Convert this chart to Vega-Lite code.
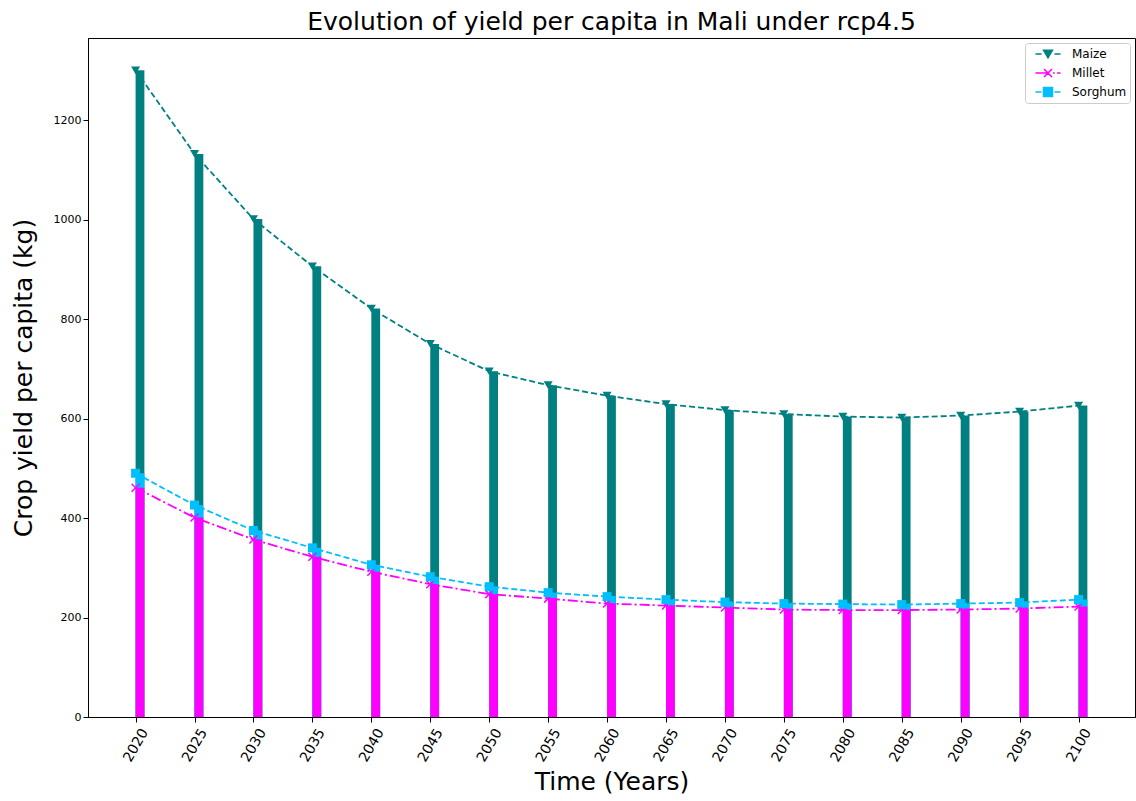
{
  "$schema": "https://vega.github.io/schema/vega-lite/v6.json",
  "width": 1047,
  "height": 679,
  "autosize": "none",
  "padding": {"left": 88, "top": 38, "right": 1, "bottom": 84},
  "background": "white",
  "config": {
    "font": "DejaVu Sans",
    "view": {"stroke": "black", "strokeWidth": 1},
    "axis": {"grid": false, "domainColor": "black", "tickColor": "black", "labelColor": "black", "titleColor": "black", "labelFont": "DejaVu Sans", "titleFont": "DejaVu Sans", "titleFontSize": 25, "titleFontWeight": "normal", "tickSize": 5, "labelFlush": false, "labelOverlap": false}
  },
  "title": {"text": "Evolution of yield per capita in Mali under rcp4.5", "font": "DejaVu Sans", "fontSize": 25, "fontWeight": "normal", "color": "black", "anchor": "middle", "frame": "group", "offset": 3},
  "datasets": {
    "yields": [
      {"year": 2020, "crop": "Maize", "value": 1300},
      {"year": 2025, "crop": "Maize", "value": 1132},
      {"year": 2030, "crop": "Maize", "value": 1001},
      {"year": 2035, "crop": "Maize", "value": 906},
      {"year": 2040, "crop": "Maize", "value": 821},
      {"year": 2045, "crop": "Maize", "value": 750},
      {"year": 2050, "crop": "Maize", "value": 695},
      {"year": 2055, "crop": "Maize", "value": 667},
      {"year": 2060, "crop": "Maize", "value": 646},
      {"year": 2065, "crop": "Maize", "value": 629},
      {"year": 2070, "crop": "Maize", "value": 617},
      {"year": 2075, "crop": "Maize", "value": 609},
      {"year": 2080, "crop": "Maize", "value": 604},
      {"year": 2085, "crop": "Maize", "value": 602},
      {"year": 2090, "crop": "Maize", "value": 606},
      {"year": 2095, "crop": "Maize", "value": 614},
      {"year": 2100, "crop": "Maize", "value": 626},
      {"year": 2020, "crop": "Millet", "value": 461},
      {"year": 2025, "crop": "Millet", "value": 401},
      {"year": 2030, "crop": "Millet", "value": 357},
      {"year": 2035, "crop": "Millet", "value": 322},
      {"year": 2040, "crop": "Millet", "value": 292},
      {"year": 2045, "crop": "Millet", "value": 267},
      {"year": 2050, "crop": "Millet", "value": 247},
      {"year": 2055, "crop": "Millet", "value": 238},
      {"year": 2060, "crop": "Millet", "value": 228},
      {"year": 2065, "crop": "Millet", "value": 224},
      {"year": 2070, "crop": "Millet", "value": 220},
      {"year": 2075, "crop": "Millet", "value": 216},
      {"year": 2080, "crop": "Millet", "value": 215},
      {"year": 2085, "crop": "Millet", "value": 215},
      {"year": 2090, "crop": "Millet", "value": 216},
      {"year": 2095, "crop": "Millet", "value": 218},
      {"year": 2100, "crop": "Millet", "value": 222},
      {"year": 2020, "crop": "Sorghum", "value": 490},
      {"year": 2025, "crop": "Sorghum", "value": 426},
      {"year": 2030, "crop": "Sorghum", "value": 375},
      {"year": 2035, "crop": "Sorghum", "value": 340},
      {"year": 2040, "crop": "Sorghum", "value": 306},
      {"year": 2045, "crop": "Sorghum", "value": 282},
      {"year": 2050, "crop": "Sorghum", "value": 262},
      {"year": 2055, "crop": "Sorghum", "value": 250},
      {"year": 2060, "crop": "Sorghum", "value": 242},
      {"year": 2065, "crop": "Sorghum", "value": 236},
      {"year": 2070, "crop": "Sorghum", "value": 231},
      {"year": 2075, "crop": "Sorghum", "value": 228},
      {"year": 2080, "crop": "Sorghum", "value": 227},
      {"year": 2085, "crop": "Sorghum", "value": 226},
      {"year": 2090, "crop": "Sorghum", "value": 228},
      {"year": 2095, "crop": "Sorghum", "value": 230},
      {"year": 2100, "crop": "Sorghum", "value": 236}
    ]
  },
  "data": {"name": "yields"},
  "encoding": {
    "x": {"field": "year", "type": "quantitative", "scale": {"domain": [2015.9625, 2104.7875], "nice": false, "zero": false, "padding": 0},
      "axis": {"values": [2020,2025,2030,2035,2040,2045,2050,2055,2060,2065,2070,2075,2080,2085,2090,2095,2100], "format": "d", "labelFontSize": 14, "labelAngle": -60, "labelAlign": "center", "labelBaseline": "middle", "labelPadding": 23, "title": "Time (Years)", "titlePadding": 6}},
    "y": {"field": "value", "type": "quantitative", "scale": {"domain": [0, 1365], "nice": false, "padding": 0},
      "axis": {"values": [0,200,400,600,800,1000,1200], "format": "d", "labelFontSize": 11, "labelPadding": 2, "title": "Crop yield per capita (kg)", "titlePadding": 17}}
  },
  "layer": [
    {"transform": [{"filter": "datum.crop === 'Maize'"}], "mark": {"type": "bar", "width": 8.8, "xOffset": 4.4, "color": "#008080"}},
    {"transform": [{"filter": "datum.crop === 'Sorghum'"}], "mark": {"type": "bar", "width": 8.8, "xOffset": 4.4, "color": "#00bfff"}},
    {"transform": [{"filter": "datum.crop === 'Millet'"}], "mark": {"type": "bar", "width": 8.8, "xOffset": 4.4, "color": "#ff00ff"}},
    {"transform": [{"filter": "datum.crop === 'Maize'"}], "mark": {"type": "line", "strokeWidth": 1.8, "color": "#008080", "strokeDash": [6, 3]}, "encoding": {}},
    {"transform": [{"filter": "datum.crop === 'Maize'"}], "mark": {"type": "point", "shape": "triangle-down", "filled": true, "size": 81, "color": "#008080", "opacity": 1}},
    {"transform": [{"filter": "datum.crop === 'Millet'"}], "mark": {"type": "line", "strokeWidth": 1.8, "color": "#ff00ff", "strokeDash": [10, 3, 2, 3]}, "encoding": {}},
    {"transform": [{"filter": "datum.crop === 'Millet'"}], "mark": {"type": "point", "shape": "M-1,-1L1,1M-1,1L1,-1", "filled": false, "size": 64, "stroke": "#ff00ff", "strokeWidth": 1.5, "opacity": 1}},
    {"transform": [{"filter": "datum.crop === 'Sorghum'"}], "mark": {"type": "line", "strokeWidth": 1.8, "color": "#00bfff", "strokeDash": [6, 3]}, "encoding": {}},
    {"transform": [{"filter": "datum.crop === 'Sorghum'"}], "mark": {"type": "point", "shape": "square", "filled": true, "size": 81, "color": "#00bfff", "opacity": 1}},
    {"mark": {"type": "point", "filled": true, "strokeWidth": 1.5, "opacity": 0, "size": 196},
      "encoding": {
        "fill": {"field": "crop", "type": "nominal", "scale": {"domain": ["Maize", "Millet", "Sorghum"], "range": ["#008080", "#ff00ff", "#00bfff"]},
          "legend": {"title": null, "orient": "top-right", "offset": 5, "padding": 3, "rowPadding": 4, "symbolOffset": 12, "labelOffset": 16, "strokeColor": "#cccccc", "fillColor": "white", "cornerRadius": 3, "labelFontSize": 12, "labelColor": "black", "symbolOpacity": 1, "symbolSize": 196, "symbolStrokeWidth": 1.5}},
        "stroke": {"field": "crop", "type": "nominal", "scale": {"domain": ["Maize", "Millet", "Sorghum"], "range": ["#008080", "#ff00ff", "#00bfff"]},
          "legend": {"title": null, "orient": "top-right", "offset": 5, "padding": 3, "rowPadding": 4, "symbolOffset": 12, "labelOffset": 16, "strokeColor": "#cccccc", "fillColor": "white", "cornerRadius": 3, "labelFontSize": 12, "labelColor": "black", "symbolOpacity": 1, "symbolSize": 196, "symbolStrokeWidth": 1.5}},
        "shape": {"field": "crop", "type": "nominal", "scale": {"domain": ["Maize", "Millet", "Sorghum"], "range": ["M-1.79,0H-0.93M0.93,0H1.79M-0.64,-0.55L0.64,-0.55L0,0.55Z", "M-1.79,0H-0.07M0.71,0H0.96M1.29,0H1.79M-0.57,-0.57L0.57,0.57M-0.57,0.57L0.57,-0.57", "M-1.79,0H-0.93M0.93,0H1.79M-0.64,-0.64H0.64V0.64H-0.64Z"]},
          "legend": {"title": null, "orient": "top-right", "offset": 5, "padding": 3, "rowPadding": 4, "symbolOffset": 12, "labelOffset": 16, "strokeColor": "#cccccc", "fillColor": "white", "cornerRadius": 3, "labelFontSize": 12, "labelColor": "black", "symbolOpacity": 1, "symbolSize": 196, "symbolStrokeWidth": 1.5}}
      }}
  ]
}
